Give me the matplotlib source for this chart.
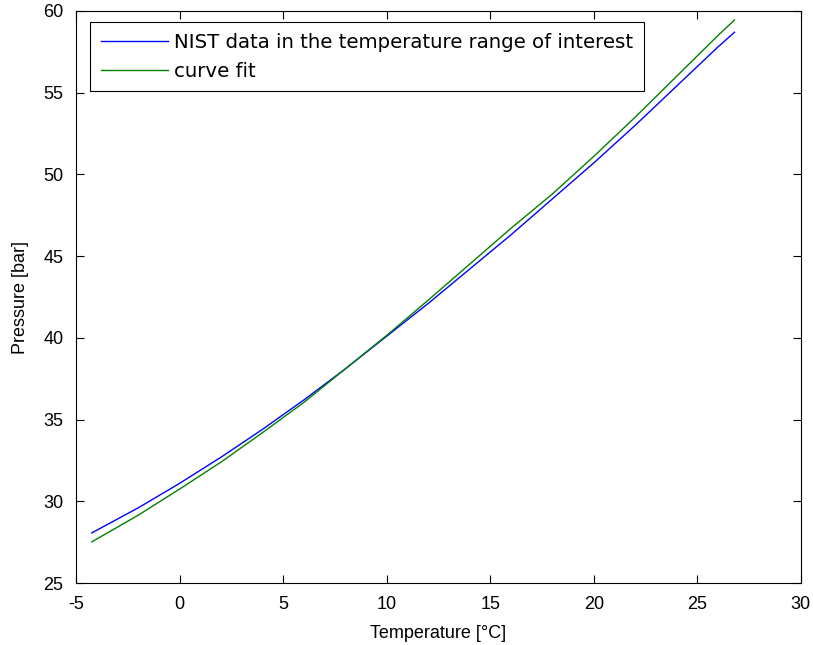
import numpy as np
import matplotlib
matplotlib.use("Agg")
import matplotlib.pyplot as plt

plt.rcParams['font.family'] = ['Liberation Sans', 'DejaVu Sans']
plt.rcParams['axes.unicode_minus'] = False

# temperature [C] and pressure [bar]
temp = [-4.24, -2, 0, 2, 4, 6, 8, 10, 12, 14, 16, 18, 20, 22, 24, 26, 26.8]
p_nist = [28.07, 29.6, 31.1, 32.7, 34.4, 36.2, 38.1, 40.1, 42.1, 44.2, 46.3,
          48.5, 50.7, 53.0, 55.4, 57.8, 58.7]
p_fit = [27.52, 29.15, 30.75, 32.4, 34.2, 36.05, 38.1, 40.15, 42.3, 44.5, 46.7,
         48.8, 51.1, 53.5, 56.0, 58.5, 59.45]

xticks = [-5, 0, 5, 10, 15, 20, 25, 30]
yticks = [25, 30, 35, 40, 45, 50, 55, 60]

fig = plt.figure(figsize=(8.13, 6.45), dpi=100)
ax = fig.add_axes([0.0935, 0.096, 0.8915, 0.887])

ax.plot(temp, p_nist, color=(0, 0, 1), lw=1.0,
        label='NIST data in the temperature range of interest')
ax.plot(temp, p_fit, color=(0, 0.5, 0), lw=1.0, label='curve fit')

ax.set_xlim(-5, 30)
ax.set_ylim(25, 60)
ax.set_xticks(xticks)
ax.set_yticks(yticks)
ax.tick_params(direction='in', top=True, right=True, length=6, width=0.8,
               labelsize=13, pad=9)
for s in ax.spines.values():
    s.set_linewidth(0.8)

ax.set_xlabel('Temperature [\u00b0C]', fontsize=13, labelpad=9)
ax.set_ylabel('Pressure [bar]', fontsize=13, labelpad=10)

leg = ax.legend(loc='upper left', bbox_to_anchor=(0.0193, 0.981),
                borderaxespad=0, prop={'family': 'DejaVu Sans', 'size': 14.2},
                fancybox=False, edgecolor='black', framealpha=1,
                handlelength=3.4, handletextpad=0.3, borderpad=0.55,
                labelspacing=0.5)
leg.get_frame().set_linewidth(0.8)

fig.savefig('out.png', dpi=100)
